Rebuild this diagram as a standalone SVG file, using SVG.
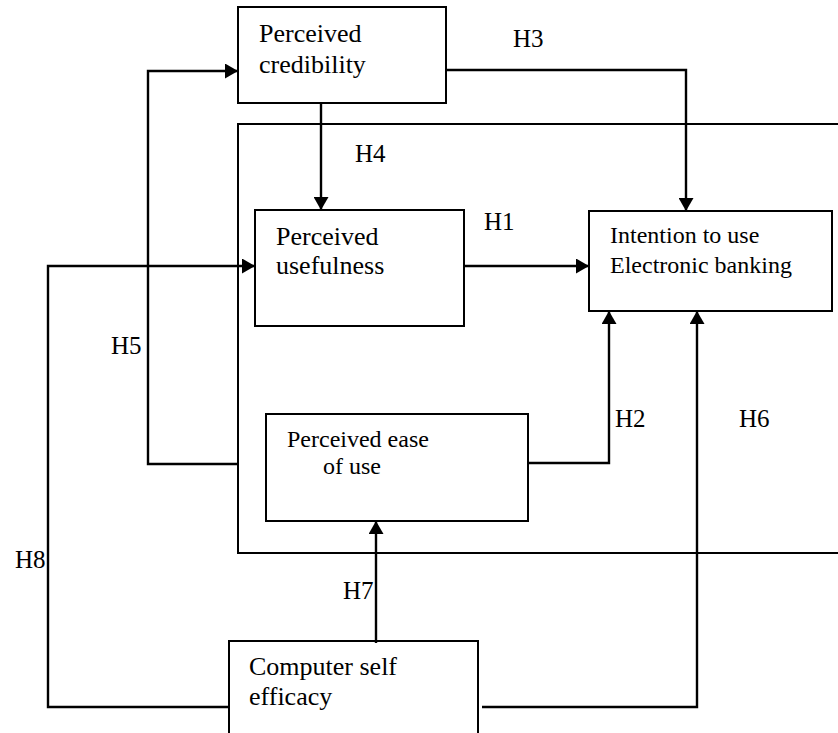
<svg xmlns="http://www.w3.org/2000/svg" width="838" height="733" viewBox="0 0 838 733" font-family="'Liberation Serif', 'Times New Roman', Times, 'DejaVu Serif', serif">
<style>
.box{fill:none;stroke:#000;stroke-width:2}
.con{fill:none;stroke:#000;stroke-width:2.4;marker-end:url(#ah)}
.t26{font-size:26px;font-family:'Liberation Serif','Times New Roman',Times,'DejaVu Serif',serif;fill:#000}
.t24{font-size:24px;font-family:'Liberation Serif','Times New Roman',Times,'DejaVu Serif',serif;fill:#000}
.lbl{font-size:25px;font-family:'Liberation Serif','Times New Roman',Times,'DejaVu Serif',serif;fill:#000}
</style>
<defs>
<marker id="ah" viewBox="0 0 13 15" refX="13" refY="7.5" markerWidth="13" markerHeight="15" orient="auto" markerUnits="userSpaceOnUse">
<path d="M0,0 L13,7.5 L0,15 z" fill="#000"/>
</marker>
</defs>
<rect width="838" height="733" fill="#fff"/>
<g id="frame">
<path class="box" d="M840,124 H238 V553 H840"/>
</g>
<g id="credibility">
<rect class="box" x="238" y="7" width="208" height="96"/>
<text class="t26" x="259" y="42">Perceived</text>
<text class="t26" x="259" y="73">credibility</text>
</g>
<g id="usefulness">
<rect class="box" x="255" y="210" width="209" height="116"/>
<text class="t26" x="276" y="245">Perceived</text>
<text class="t26" x="276" y="274">usefulness</text>
</g>
<g id="intention">
<rect class="box" x="589" y="211" width="243" height="100"/>
<text class="t24" x="610" y="243">Intention to use</text>
<text class="t24" x="610" y="273">Electronic banking</text>
</g>
<g id="ease">
<rect class="box" x="266" y="414" width="262" height="107"/>
<text class="t24" x="287" y="447">Perceived ease</text>
<text class="t24" x="323" y="474">of use</text>
</g>
<g id="selfefficacy">
<rect class="box" x="229" y="641" width="249" height="110"/>
<text class="t26" x="249" y="675">Computer self</text>
<text class="t26" x="249" y="705">efficacy</text>
</g>
<g id="connectors">
<path class="con" d="M446,70 H686 V211"/>
<path class="con" d="M321,103 V210"/>
<path class="con" d="M238,464 H148 V71 H238"/>
<path class="con" d="M229,707 H48 V266 H255"/>
<path class="con" d="M464,266 H589"/>
<path class="con" d="M528,463 H609 V311"/>
<path class="con" d="M482,707 H697 V311"/>
<path class="con" d="M376,643 V521"/>
</g>
<g id="labels">
<text class="lbl" x="513" y="47">H3</text>
<text class="lbl" x="355" y="162">H4</text>
<text class="lbl" x="484" y="230">H1</text>
<text class="lbl" x="111" y="354">H5</text>
<text class="lbl" x="615" y="427">H2</text>
<text class="lbl" x="739" y="427">H6</text>
<text class="lbl" x="15" y="568">H8</text>
<text class="lbl" x="343" y="599">H7</text>
</g>
</svg>
